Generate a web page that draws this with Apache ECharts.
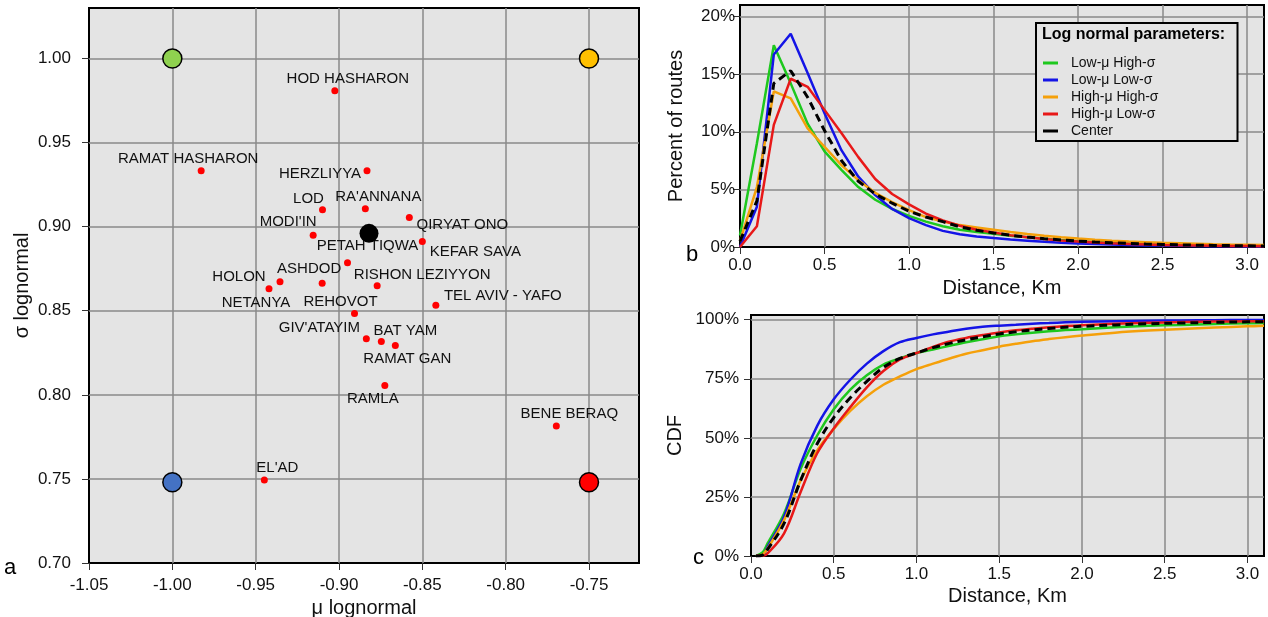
<!DOCTYPE html>
<html>
<head>
<meta charset="utf-8">
<title>Lognormal parameters and route distance</title>
<script src="https://cdn.jsdelivr.net/npm/echarts@6/dist/echarts.min.js"></script>
<style>
  html, body { margin: 0; padding: 0; background: #fff; }
  #chart { width: 1268px; height: 617px; }
</style>
</head>
<body>
<div id="chart"></div>
<script>
// ---- panel a: fitted lognormal parameters per city ----
const cityNames = ["HOD HASHARON", "RAMAT HASHARON", "HERZLIYYA", "LOD", "RA'ANNANA", "MODI'IN",
  "QIRYAT ONO", "KEFAR SAVA", "PETAH TIQWA", "HOLON", "NETANYA", "ASHDOD", "RISHON LEZIYYON",
  "REHOVOT", "TEL AVIV - YAFO", "GIV'ATAYIM", "BAT YAM", "RAMAT GAN", "RAMLA", "BENE BERAQ", "EL'AD"];
const cityMu = [-0.9025, -0.9827, -0.8832, -0.9099, -0.8842, -0.9155,
  -0.8578, -0.8500, -0.8949, -0.9420, -0.9354, -0.9101, -0.8771,
  -0.8907, -0.8419, -0.8836, -0.8746, -0.8662, -0.8725, -0.7696, -0.9448];
const citySigma = [0.9808, 0.9332, 0.9332, 0.9101, 0.9107, 0.8949,
  0.9055, 0.8911, 0.8786, 0.8631, 0.8673, 0.8664, 0.8649,
  0.8484, 0.8532, 0.8333, 0.8317, 0.8293, 0.8055, 0.7815, 0.7494];

// the four scenario corners and the center point
const cornerMu = [-1.0, -0.75, -1.0, -0.75];
const cornerSigma = [1.0, 1.0, 0.748, 0.748];
const centerMu = [-0.882];
const centerSigma = [0.896];

// ---- panels b and c: route distance distributions ----
const curveNames = ["Low-\u03bc High-\u03c3", "Low-\u03bc Low-\u03c3", "High-\u03bc High-\u03c3", "High-\u03bc Low-\u03c3", "Center"];

const pdfDist = [0, 0.1, 0.2, 0.3, 0.4, 0.5, 0.6, 0.7, 0.8, 0.9, 1.0, 1.1, 1.2, 1.3, 1.4, 1.5,
  1.6, 1.7, 1.8, 1.9, 2.0, 2.1, 2.2, 2.3, 2.4, 2.5, 2.6, 2.7, 2.8, 2.9, 3.0, 3.1];
const pdfLowMuHighSigma = [1.0, 9.0, 17.5, 14.2, 10.7, 8.3, 6.7, 5.2, 4.1, 3.3, 2.7, 2.2, 1.8, 1.5, 1.3, 1.15,
  0.98, 0.85, 0.72, 0.6, 0.5, 0.43, 0.37, 0.31, 0.27, 0.23, 0.2, 0.17, 0.15, 0.13, 0.11, 0.1];
const pdfLowMuLowSigma = [0, 3.5, 16.7, 18.5, 15.1, 11.6, 8.4, 6.1, 4.5, 3.3, 2.5, 1.9, 1.4, 1.1, 0.92, 0.78,
  0.65, 0.55, 0.45, 0.37, 0.3, 0.25, 0.21, 0.17, 0.14, 0.12, 0.1, 0.08, 0.07, 0.06, 0.05, 0.04];
const pdfHighMuHighSigma = [0.5, 5.2, 13.5, 12.9, 10.3, 8.7, 7.1, 5.8, 4.7, 3.9, 3.2, 2.6, 2.2, 1.9, 1.7, 1.5,
  1.3, 1.12, 0.97, 0.84, 0.73, 0.63, 0.55, 0.48, 0.42, 0.36, 0.32, 0.28, 0.24, 0.21, 0.19, 0.17];
const pdfHighMuLowSigma = [0, 1.8, 10.6, 14.6, 13.9, 11.9, 9.9, 7.8, 5.9, 4.6, 3.7, 2.9, 2.3, 1.85, 1.5, 1.25,
  1.02, 0.84, 0.69, 0.57, 0.47, 0.39, 0.32, 0.27, 0.22, 0.18, 0.15, 0.13, 0.11, 0.09, 0.08, 0.07];
const pdfCenter = [0.5, 4.0, 14.2, 15.3, 13.0, 10.1, 7.5, 5.7, 4.6, 3.8, 3.1, 2.6, 2.2, 1.75, 1.45, 1.22,
  1.02, 0.86, 0.72, 0.61, 0.51, 0.43, 0.36, 0.31, 0.26, 0.22, 0.19, 0.16, 0.14, 0.12, 0.1, 0.09];

const cdfDist = [0.03, 0.07, 0.1, 0.2, 0.3, 0.4, 0.5, 0.6, 0.7, 0.8, 0.9, 1.0, 1.1, 1.2, 1.3, 1.4,
  1.5, 1.6, 1.7, 1.8, 1.9, 2.0, 2.2, 2.4, 2.6, 2.8, 3.0, 3.1];
const cdfLowMuHighSigma = [0, 1.5, 5.3, 18, 36.9, 51, 62.1, 70.4, 76.5, 81, 83.6, 85.9, 87.4, 89, 90.5, 91.7,
  93.0, 93.8, 94.5, 95.1, 95.6, 96.0, 96.8, 97.4, 97.8, 98.2, 98.5, 98.6];
const cdfLowMuLowSigma = [0, 0.2, 3.9, 16.6, 39, 55.1, 66.3, 74.6, 81.4, 86.7, 90.5, 92.3, 93.8, 95, 96.2, 97.0,
  97.5, 97.9, 98.3, 98.6, 98.9, 99.1, 99.4, 99.6, 99.7, 99.8, 99.9, 99.9];
const cdfHighMuHighSigma = [0, 0.6, 3.2, 15.2, 32, 44.7, 53.8, 61.4, 67.6, 72.5, 76, 79.1, 81.4, 83.6, 85.6, 87.1,
  88.6, 89.8, 90.9, 91.8, 92.6, 93.3, 94.5, 95.4, 96.1, 96.7, 97.2, 97.4];
const cdfHighMuLowSigma = [0, 0, 1.1, 9.6, 27.1, 43.5, 54, 63, 71.4, 78.3, 83.2, 85.9, 88.5, 90.8, 92.3, 93.5,
  94.6, 95.5, 96.2, 96.8, 97.3, 97.7, 98.3, 98.7, 99.0, 99.2, 99.4, 99.4];
const cdfCenter = [0, 0.4, 2.8, 13.8, 32, 47.5, 58.6, 67, 73.9, 79.8, 83.6, 85.9, 88.2, 90, 91.5, 92.8,
  94.0, 94.9, 95.7, 96.3, 96.8, 97.2, 97.8, 98.3, 98.6, 98.9, 99.1, 99.2];

// styling
const FONT = "'Liberation Sans', Arial, sans-serif";
const curveColors = ["#1ec81e", "#1414e6", "#f5a00a", "#e81818", "#000000"];
const cornerColors = ["#8fd14f", "#ffc000", "#4472c4", "#ff0000"];
// label centre offset (px) from each city dot
const labelOffset = {
  "HOD HASHARON": [13, -12], "RAMAT HASHARON": [-13, -12], "HERZLIYYA": [-47, 3], "LOD": [-14, -11],
  "RA'ANNANA": [13, -12], "MODI'IN": [-25, -13], "QIRYAT ONO": [53, 7], "KEFAR SAVA": [53, 10],
  "PETAH TIQWA": [20, -17], "HOLON": [-30, -12], "NETANYA": [-24, 21], "ASHDOD": [-13, -14],
  "RISHON LEZIYYON": [45, -11], "REHOVOT": [-14, -12], "TEL AVIV - YAFO": [67, -9],
  "GIV'ATAYIM": [-47, -11], "BAT YAM": [24, -11], "RAMAT GAN": [12, 13], "RAMLA": [-12, 13],
  "BENE BERAQ": [13, -12], "EL'AD": [13, -12]
};

const zip = (xs, ys) => xs.map((x, i) => [x, ys[i]]);

function axis(opts) {
  return Object.assign({
    type: "value",
    axisLine: { show: false },
    axisTick: { show: true, length: 7, lineStyle: { color: "#333", width: 1 } },
    splitLine: { show: true, showMinLine: false, showMaxLine: false, lineStyle: { color: "#8a8a8a", width: 1.5 } },
    nameLocation: "middle",
    nameTextStyle: { color: "#111", fontFamily: FONT, fontSize: 20 },
  }, opts);
}
function labels(fontSize, margin, formatter) {
  return { color: "#111", fontFamily: FONT, fontSize: fontSize, margin: margin, showMaxLabel: false, formatter: formatter };
}

const gridStyle = { show: true, backgroundColor: "#e4e4e4", borderColor: "#000", borderWidth: 2, outerBoundsMode: "none", containLabel: false };

const pdfSeries = [pdfLowMuHighSigma, pdfLowMuLowSigma, pdfHighMuHighSigma, pdfHighMuLowSigma, pdfCenter];
const cdfSeries = [cdfLowMuHighSigma, cdfLowMuLowSigma, cdfHighMuHighSigma, cdfHighMuLowSigma, cdfCenter];

function curve(i, values, dist, axisIdx, smooth) {
  return {
    name: curveNames[i],
    type: "line",
    xAxisIndex: axisIdx,
    yAxisIndex: axisIdx,
    data: zip(dist, values),
    symbol: "none",
    smooth: smooth,
    clip: true,
    z: i === 4 ? 5 : 3,
    itemStyle: { color: curveColors[i] },
    lineStyle: { color: curveColors[i], width: i === 4 ? 3 : 2.5, type: i === 4 ? [8, 5] : "solid" },
  };
}

const chart = echarts.init(document.getElementById("chart"));
chart.setOption({
  animation: false,
  textStyle: { fontFamily: FONT },
  title: {
    text: "Log normal parameters:",
    left: 1042, top: 27, padding: 0,
    textStyle: { fontFamily: FONT, fontSize: 16, fontWeight: "bold", color: "#000" },
  },
  legend: {
    data: curveNames.map((n) => ({ name: n, icon: "rect" })),
    orient: "vertical",
    left: 1036, top: 23,
    padding: [33, 79, 3, 7],
    itemWidth: 15, itemHeight: 3, itemGap: 3,
    backgroundColor: "#e4e4e4",
    borderColor: "#000", borderWidth: 2,
    textStyle: { fontFamily: FONT, fontSize: 14, color: "#111", padding: [0, 0, 0, 8] },
  },
  grid: [
    Object.assign({ left: 89, top: 8, width: 550, height: 555 }, gridStyle),
    Object.assign({ left: 740, top: 5, width: 524, height: 242 }, gridStyle),
    Object.assign({ left: 751, top: 315, width: 513, height: 241 }, gridStyle),
  ],
  xAxis: [
    axis({ gridIndex: 0, min: -1.05, max: -0.72, interval: 0.05, name: "\u03bc lognormal", nameGap: 29,
      axisLabel: labels(17, 14, (v) => v.toFixed(2)) }),
    axis({ gridIndex: 1, min: 0, max: 3.1, interval: 0.5, name: "Distance, Km", nameGap: 31,
      axisLabel: labels(17, 10, (v) => v.toFixed(1)) }),
    axis({ gridIndex: 2, min: 0, max: 3.1, interval: 0.5, name: "Distance, Km", nameGap: 30,
      axisLabel: labels(17, 10, (v) => v.toFixed(1)) }),
  ],
  yAxis: [
    axis({ gridIndex: 0, min: 0.70, max: 1.03, interval: 0.05, name: "\u03c3 lognormal", nameGap: 57,
      axisLabel: labels(17, 18, (v) => v.toFixed(2)) }),
    axis({ gridIndex: 1, min: 0, max: 21, interval: 5, name: "Percent of routes", nameGap: 54,
      axisLabel: labels(17, 5, (v) => v + "%") }),
    axis({ gridIndex: 2, min: 0, max: 102, interval: 25, name: "CDF", nameGap: 66,
      axisLabel: labels(17, 12, (v) => v + "%") }),
  ],
  graphic: [
    { type: "text", left: 4, top: 557, style: { text: "a", font: "22px " + FONT, fill: "#000" } },
    { type: "text", left: 686, top: 244, style: { text: "b", font: "22px " + FONT, fill: "#000" } },
    { type: "text", left: 693, top: 547, style: { text: "c", font: "22px " + FONT, fill: "#000" } },
  ],
  series: [
    {
      name: "cities",
      type: "scatter",
      xAxisIndex: 0, yAxisIndex: 0,
      symbolSize: 7,
      itemStyle: { color: "#ff0000", opacity: 1 },
      data: cityNames.map((n, i) => ({
        name: n,
        value: [cityMu[i], citySigma[i]],
        label: { offset: labelOffset[n] },
      })),
      label: {
        show: true, position: "inside", formatter: "{b}",
        fontFamily: FONT, fontSize: 15, color: "#111",
        textBorderWidth: 0, textBorderColor: "transparent",
      },
      z: 4,
    },
    {
      name: "corners",
      type: "scatter",
      xAxisIndex: 0, yAxisIndex: 0,
      symbolSize: 19,
      data: cornerMu.map((m, i) => ({
        value: [m, cornerSigma[i]],
        itemStyle: { color: cornerColors[i], borderColor: "#000", borderWidth: 1.5, opacity: 1 },
      })),
      z: 5,
    },
    {
      name: "center",
      type: "scatter",
      xAxisIndex: 0, yAxisIndex: 0,
      symbolSize: 19,
      itemStyle: { color: "#000", opacity: 1 },
      data: zip(centerMu, centerSigma),
      z: 5,
    },
    ...pdfSeries.map((vals, i) => curve(i, vals, pdfDist, 1, false)),
    ...cdfSeries.map((vals, i) => curve(i, vals, cdfDist, 2, 0.35)),
  ],
});
</script>
</body>
</html>
